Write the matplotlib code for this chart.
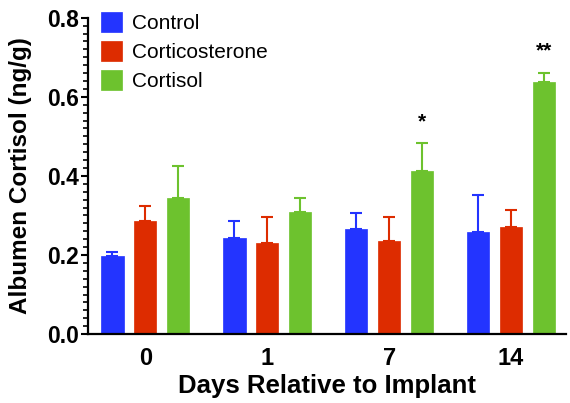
import matplotlib
matplotlib.use("Agg")
import matplotlib.pyplot as plt
import numpy as np
from matplotlib.ticker import MultipleLocator

plt.rcParams['font.family'] = ['Liberation Sans', 'DejaVu Sans']

days = ["0", "1", "7", "14"]
series = ["Control", "Corticosterone", "Cortisol"]
control = [0.198, 0.242, 0.265, 0.257]
control_err = [0.010, 0.043, 0.041, 0.094]
cortico = [0.285, 0.231, 0.236, 0.272]
cortico_err = [0.039, 0.065, 0.059, 0.043]
cortisol = [0.345, 0.309, 0.412, 0.637]
cortisol_err = [0.080, 0.034, 0.071, 0.024]
stars = ["", "", "*", "**"]
colors = ["#2334FF", "#DD2C00", "#6DC22E"]

fig = plt.figure(figsize=(5.7, 4.03), dpi=100)
ax = fig.add_axes([0.155, 0.171, 0.838, 0.785])

x = np.arange(len(days))
step = 0.27
width = 0.185
vals = [control, cortico, cortisol]
errs = [control_err, cortico_err, cortisol_err]
for i, (v, e, c, name) in enumerate(zip(vals, errs, colors, series)):
    pos = x + (i - 1) * step
    ax.bar(pos, v, width, color=c, edgecolor=c, linewidth=0.5, label=name, zorder=2)
    ax.errorbar(pos, v, yerr=[np.zeros(len(e)), e], fmt='none', ecolor=c,
                elinewidth=1.5, capsize=4.5, capthick=1.5, zorder=1)

for xi, s, v, e in zip(x, stars, cortisol, cortisol_err):
    if s:
        ax.text(xi + step, v + e + 0.03, s, ha='center', va='bottom',
                fontsize=15, fontweight='bold')

ax.set_xlim(-0.466, 3.45)
ax.set_ylim(0, 0.8)
ax.set_xticks(x)
ax.set_xticklabels(days, fontsize=17, fontweight='bold')
ax.set_yticks([0.0, 0.2, 0.4, 0.6, 0.8])
ax.set_yticklabels(["0.0", "0.2", "0.4", "0.6", "0.8"], fontsize=16.5, fontweight='bold')
ax.yaxis.set_minor_locator(MultipleLocator(0.02))
ax.tick_params(axis='x', length=0, pad=9)
ax.tick_params(axis='y', which='major', length=5, width=1.5, pad=1.5)
ax.tick_params(axis='y', which='minor', length=3.5, width=1.2)
for s in ['top', 'right']:
    ax.spines[s].set_visible(False)
for s in ['left', 'bottom']:
    ax.spines[s].set_linewidth(1.6)

ax.set_xlabel("Days Relative to Implant", fontsize=18.5, fontweight='bold', labelpad=3)
ax.set_ylabel("Albumen Cortisol (ng/g)", fontsize=17.5, fontweight='bold', labelpad=11)

leg = ax.legend(loc='upper left', bbox_to_anchor=(0.01, 1.045), frameon=False,
                fontsize=15, handlelength=1.0, handleheight=1.1,
                handletextpad=0.45, labelspacing=0.38, borderaxespad=0)

fig.savefig("out.png", dpi=100)
